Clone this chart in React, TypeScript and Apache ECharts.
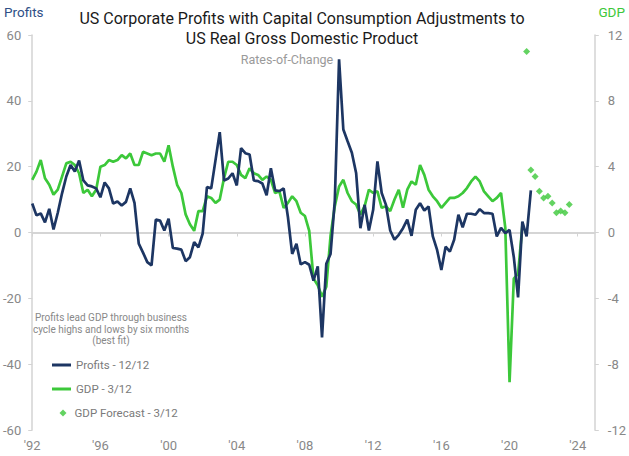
import React, { useEffect, useRef } from "react";
import * as echarts from "echarts";

// Quarterly data starting 1992 Q1
const startYear = 1992;

// US corporate profits with CCAdj, y/y % (12/12)
const profits = [
  8.8, 5.2, 5.8, 3.1, 7.2, 0.9, 6.0, 11.9, 17.0, 20.5, 18.5, 21.9, 15.8, 14.3, 14.0, 13.4,
  10.7, 15.2, 13.4, 8.8, 9.4, 8.2, 9.3, 13.4, 9.0, -3.4, -6.1, -9.0, -10.0, 3.9, 3.6, 0.6,
  4.2, -4.7, -4.9, -5.2, -8.7, -7.5, -2.9, -4.5, -0.3, 13.8, 13.4, 21.9, 30.5, 15.8, 16.4, 18.0,
  14.3, 25.6, 24.1, 23.7, 15.8, 15.6, 14.9, 11.3, 19.5, 12.8, 12.6, 13.4, 4.7, -6.5, -3.4, -9.7,
  -9.0, -9.8, -14.6, -10.3, -31.9, -9.5, -6.5, 9.7, 52.6, 31.3, 27.7, 24.2, 18.1, 1.3, 8.4, 0.6,
  6.9, 21.6, 12.0, 8.4, 0.6, -2.2, -0.7, 1.3, 3.9, -1.0, 6.9, 8.9, 6.7, 7.9, -1.2, -5.3,
  -11.4, -4.3, -5.8, -2.2, 5.4, 1.6, 5.7, 5.7, 5.4, 7.1, 5.9, 5.9, 5.7, -1.2, 1.4, -0.2,
  0.8, -7.5, -19.7, 3.3, -1.2, 12.8,
];

// US real GDP, y/y % (3/12)
const gdp = [
  3.2, 3.7, 4.4, 3.3, 2.9, 2.3, 2.6, 3.4, 4.2, 4.3, 4.1, 3.6, 2.4, 2.6, 2.2, 2.6,
  4.0, 4.1, 4.4, 4.3, 4.4, 4.7, 4.5, 4.8, 4.1, 4.1, 4.9, 4.8, 4.7, 4.8, 4.8, 4.3,
  5.3, 4.0, 2.9, 2.4, 1.1, 0.5, 0.1, 1.3, 1.3, 2.2, 2.1, 1.8, 2.0, 3.3, 4.3, 4.3,
  4.1, 3.5, 3.3, 3.9, 3.6, 3.5, 3.2, 3.4, 3.2, 2.4, 2.5, 1.5, 1.8, 2.2, 1.9, 1.2,
  1.0, 0.1, -2.8, -3.2, -3.9, -3.3, -0.2, 1.6, 2.8, 3.2, 2.4, 1.9, 1.7, 1.1, 1.6, 2.6,
  2.4, 2.5, 1.5, 1.6, 1.3, 2.0, 2.6, 1.5, 2.6, 3.1, 2.9, 4.1, 3.5, 2.6, 2.2, 1.9,
  1.5, 1.8, 2.1, 2.1, 2.2, 2.4, 2.7, 3.1, 3.4, 3.1, 2.5, 2.2, 1.9, 2.1, 2.4, 0.3,
  -9.1, -2.8, -2.5, 0.4,
];

// GDP forecast, starting 2021 Q1
const forecastStartQuarter = 116;
const gdpForecast = [11.0, 3.8, 3.4, 2.5, 2.1, 2.2, 1.8, 1.2, 1.3, 1.2, 1.7];

const seriesNames = ["Profits - 12/12", "GDP - 3/12", "GDP Forecast - 3/12"];
const titleLines = [
  "US Corporate Profits with Capital Consumption Adjustments to",
  "US Real Gross Domestic Product",
];
const subtitle = "Rates-of-Change";
const note = "Profits lead GDP through business\ncycle highs and lows by six months\n(best fit)";

const NAVY = "#1d3663";
const GREEN = "#3cc83a";
const GRAY = "#888888";
const AXIS = "#d3d3d3";
const FONT = "Roboto";

export default function App() {
  const ref = useRef<HTMLDivElement>(null);

  useEffect(() => {
    if (!ref.current) return;
    const chart = echarts.init(ref.current, undefined, { renderer: "svg" });

    const qx = (i: number) => startYear + i * 0.25;
    const profitsData = profits.map((v, i) => [qx(i), v]);
    const gdpData = gdp.map((v, i) => [qx(i), v]);
    const fcData = gdpForecast.map((v, i) => [qx(forecastStartQuarter + i), v]);

    const hidden = "rgba(0,0,0,0)";
    const legendText = { color: "#7a7a7a", fontSize: 11.5, fontFamily: FONT };

    chart.setOption({
      animation: false,
      backgroundColor: "#ffffff",
      textStyle: { fontFamily: FONT },
      grid: { left: 31, right: 33, top: 35, bottom: 26, containLabel: false },
      xAxis: {
        type: "value",
        min: 1992,
        max: 2025,
        interval: 4,
        axisLine: { show: true, lineStyle: { color: AXIS, width: 1.5 } },
        axisTick: { show: true, length: 4, lineStyle: { color: AXIS } },
        splitLine: { show: false },
        axisLabel: {
          color: GRAY,
          fontSize: 13,
          fontFamily: FONT,
          margin: 9,
          showMaxLabel: false,
          formatter: (v: number) => (v % 4 === 0 ? "'" + String(v % 100).padStart(2, "0") : ""),
        },
      },
      yAxis: [
        {
          type: "value",
          min: -60,
          max: 60,
          interval: 20,
          position: "left",
          axisLine: { show: true, lineStyle: { color: AXIS, width: 1.5 } },
          axisTick: { show: true, length: 4, lineStyle: { color: AXIS } },
          axisLabel: { color: GRAY, fontSize: 13, fontFamily: FONT, margin: 11 },
          splitLine: {
            show: true,
            lineStyle: {
              color: [hidden, hidden, hidden, "#d9d9d9", hidden, hidden, hidden],
              width: 2,
            },
          },
        },
        {
          type: "value",
          min: -12,
          max: 12,
          interval: 4,
          position: "right",
          axisLine: { show: true, lineStyle: { color: AXIS, width: 1.5 } },
          axisTick: { show: true, length: 4, lineStyle: { color: AXIS } },
          axisLabel: { color: GRAY, fontSize: 13, fontFamily: FONT, margin: 13 },
          splitLine: { show: false },
        },
      ],
      legend: [
        {
          data: [{ name: seriesNames[0], icon: "rect", itemStyle: { color: NAVY } }],
          left: 52,
          top: 359,
          padding: 0,
          itemWidth: 19,
          itemHeight: 3,
          textStyle: legendText,
          selectedMode: false,
        },
        {
          data: [{ name: seriesNames[1], icon: "rect", itemStyle: { color: GREEN } }],
          left: 52,
          top: 383,
          padding: 0,
          itemWidth: 19,
          itemHeight: 3,
          textStyle: legendText,
          selectedMode: false,
        },
        {
          data: [{ name: seriesNames[2], icon: "diamond" }],
          left: 59.5,
          top: 407,
          padding: 0,
          itemWidth: 7,
          itemHeight: 7,
          textStyle: { ...legendText, padding: [0, 0, 0, 3] },
          selectedMode: false,
        },
      ],
      graphic: [
        {
          type: "text",
          x: 4,
          y: 12,
          style: { text: "Profits", fill: "#2f4f86", fontSize: 13.5, fontFamily: FONT, align: "left", verticalAlign: "middle" },
        },
        {
          type: "text",
          x: 625,
          y: 12,
          style: { text: "GDP", fill: GREEN, fontSize: 13.5, fontFamily: FONT, align: "right", verticalAlign: "middle" },
        },
        {
          type: "text",
          x: 302,
          y: 18,
          style: { text: titleLines[0], fill: "#1a1a1a", fontSize: 16, fontFamily: FONT, align: "center", verticalAlign: "middle" },
        },
        {
          type: "text",
          x: 302,
          y: 38,
          style: { text: titleLines[1], fill: "#1a1a1a", fontSize: 16, fontFamily: FONT, align: "center", verticalAlign: "middle" },
        },
        {
          type: "text",
          x: 287,
          y: 59,
          style: { text: subtitle, fill: "#9a9a9a", fontSize: 12.5, fontFamily: FONT, align: "center", verticalAlign: "middle" },
        },
        {
          type: "text",
          x: 111,
          y: 329,
          style: {
            text: note,
            fill: GRAY,
            fontSize: 10,
            lineHeight: 11.5,
            fontFamily: FONT,
            align: "center",
            verticalAlign: "middle",
          },
        },
      ],
      series: [
        {
          name: seriesNames[0],
          type: "line",
          yAxisIndex: 0,
          data: profitsData,
          symbol: "none",
          color: NAVY,
          lineStyle: { color: NAVY, width: 2.7 },
          z: 3,
        },
        {
          name: seriesNames[1],
          type: "line",
          yAxisIndex: 1,
          data: gdpData,
          symbol: "none",
          color: GREEN,
          lineStyle: { color: GREEN, width: 2.7 },
          z: 2,
        },
        {
          name: seriesNames[2],
          type: "scatter",
          yAxisIndex: 1,
          data: fcData,
          symbol: "diamond",
          symbolSize: 7,
          itemStyle: { color: GREEN },
          z: 4,
        },
      ],
    });

    return () => chart.dispose();
  }, []);

  return (
    <div
      ref={ref}
      style={{ position: "fixed", left: 0, top: 0, width: 629, height: 456, background: "#fff" }}
    />
  );
}
